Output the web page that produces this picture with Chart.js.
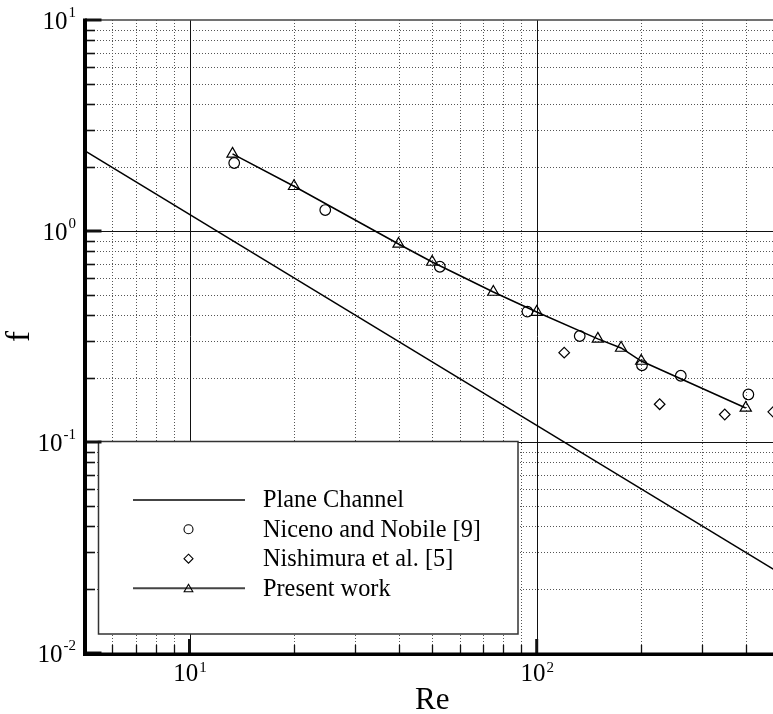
<!DOCTYPE html>
<html>
<head>
<meta charset="utf-8">
<script src="https://cdn.jsdelivr.net/npm/chart.js@4/dist/chart.umd.min.js"></script>
<style>
  html, body { margin: 0; padding: 0; background: #fff; overflow: hidden; }
  #wrap { width: 791px; height: 714px; }
</style>
</head>
<body>
<div id="wrap"><canvas id="c" width="791" height="714"></canvas></div>
<script>
// ---- data ----
const planeRe = [5, 500];
const planeF = [2.4, 0.024];

const nicenoRe = [13.45, 24.6, 52.6, 94, 133, 201, 260, 407];
const nicenoF  = [2.10, 1.257, 0.677, 0.415, 0.318, 0.231, 0.206, 0.168];

const nishimuraRe = [120, 226, 348, 480];
const nishimuraF  = [0.265, 0.151, 0.135, 0.139];

const presentRe = [13.3, 20, 40, 50, 75, 100, 150, 175, 200, 400];
const presentF  = [2.32, 1.63, 0.868, 0.713, 0.514, 0.413, 0.308, 0.279, 0.242, 0.145];

const seriesLabels = ['Plane Channel', 'Niceno and Nobile [9]', 'Nishimura et al. [5]', 'Present work'];

const xMajorTicks = [10, 100];
const xTickLabels = ['10^1', '10^2'];
const yMajorTicks = [0.01, 0.1, 1, 10];
const yTickLabels = ['10^-2', '10^-1', '10^0', '10^1'];
const xTitle = 'Re';
const yTitle = 'f';

const toPts = (xs, ys) => xs.map((v, i) => ({ x: v, y: ys[i] }));
const SERIF = "'Liberation Serif', 'Times New Roman', serif";

function minorValues(min, max) {
  const out = [];
  for (let d = Math.floor(Math.log10(min)); d <= Math.ceil(Math.log10(max)); d++) {
    for (let k = 2; k <= 9; k++) {
      const v = k * Math.pow(10, d);
      if (v > min * 1.0001 && v < max * 0.9999) out.push(v);
    }
  }
  return out;
}

function drawSymbol(ctx, style, cx, cy, r) {
  ctx.beginPath();
  if (style === 'circle') {
    ctx.arc(cx, cy, r, 0, Math.PI * 2);
  } else if (style === 'rectRot') {
    ctx.moveTo(cx, cy - r); ctx.lineTo(cx + r, cy); ctx.lineTo(cx, cy + r); ctx.lineTo(cx - r, cy); ctx.closePath();
  } else if (style === 'triangle') {
    ctx.moveTo(cx, cy - r);
    ctx.lineTo(cx + 0.866 * r, cy + 0.5 * r);
    ctx.lineTo(cx - 0.866 * r, cy + 0.5 * r);
    ctx.closePath();
  }
  ctx.stroke();
}

function drawPow(ctx, label, x, baseY, expY, align) {
  const [b, e] = label.split('^');
  ctx.font = '25px ' + SERIF;
  const bw = ctx.measureText(b).width;
  ctx.font = '15px ' + SERIF;
  const ew = ctx.measureText(e).width;
  const total = bw + 1 + ew;
  let left = align === 'right' ? x - total : x - total / 2;
  ctx.textAlign = 'left';
  ctx.textBaseline = 'alphabetic';
  ctx.font = '25px ' + SERIF;
  ctx.fillText(b, left, baseY);
  ctx.font = '15px ' + SERIF;
  ctx.fillText(e, left + bw + 1, expY);
}

const decor = {
  id: 'decor',
  beforeDatasetsDraw(chart) {
    const { ctx, chartArea: a, scales: { x, y } } = chart;
    ctx.save();
    // minor dotted grid
    ctx.strokeStyle = '#555';
    ctx.lineWidth = 1;
    ctx.setLineDash([1, 2]);
    minorValues(x.min, x.max).forEach(v => {
      const px = Math.round(x.getPixelForValue(v)) + 0.5;
      ctx.beginPath(); ctx.moveTo(px, a.top); ctx.lineTo(px, a.bottom); ctx.stroke();
    });
    minorValues(y.min, y.max).forEach(v => {
      const py = Math.round(y.getPixelForValue(v)) + 0.5;
      ctx.beginPath(); ctx.moveTo(a.left, py); ctx.lineTo(a.right, py); ctx.stroke();
    });
    ctx.setLineDash([]);
    // major solid grid
    ctx.strokeStyle = '#111';
    ctx.lineWidth = 1;
    xMajorTicks.forEach(v => {
      const px = Math.round(x.getPixelForValue(v)) + 0.5;
      ctx.beginPath(); ctx.moveTo(px, a.top); ctx.lineTo(px, a.bottom); ctx.stroke();
    });
    yMajorTicks.forEach(v => {
      if (v <= y.min || v >= y.max) return;
      const py = Math.round(y.getPixelForValue(v)) + 0.5;
      ctx.beginPath(); ctx.moveTo(a.left, py); ctx.lineTo(a.right, py); ctx.stroke();
    });
    ctx.restore();
  },
  afterDatasetsDraw(chart) {
    const { ctx, chartArea: a, scales: { x, y } } = chart;
    ctx.save();
    // legend box
    const lb = { l: 98.5, t: 441.5, r: 518, b: 634 };
    ctx.fillStyle = '#fff';
    ctx.fillRect(lb.l, lb.t, lb.r - lb.l, lb.b - lb.t);
    ctx.strokeStyle = '#333';
    ctx.lineWidth = 1.5;
    ctx.strokeRect(lb.l, lb.t, lb.r - lb.l, lb.b - lb.t);
    const rowY = [500, 529.3, 558.7, 588.3];
    chart.data.datasets.forEach((ds, i) => {
      const yy = rowY[i];
      if (ds.showLine) {
        ctx.strokeStyle = '#444';
        ctx.lineWidth = 2;
        ctx.beginPath(); ctx.moveTo(133, yy); ctx.lineTo(245, yy); ctx.stroke();
      }
      if (ds.pointRadius > 0) {
        ctx.strokeStyle = '#000';
        ctx.lineWidth = 1.1;
        drawSymbol(ctx, ds.pointStyle, 188.5, yy + (ds.pointStyle === 'triangle' ? 1 : 0), ds.pointStyle === 'triangle' ? 5 : 4.5);
      }
      ctx.fillStyle = '#000';
      ctx.font = '24.3px ' + SERIF;
      ctx.textAlign = 'left';
      ctx.textBaseline = 'middle';
      ctx.fillText(ds.label, 263, yy + 1);
    });

    // frame: thin top/right
    ctx.strokeStyle = '#444';
    ctx.lineWidth = 1.5;
    ctx.beginPath(); ctx.moveTo(a.left, a.top); ctx.lineTo(a.right, a.top); ctx.lineTo(a.right, a.bottom); ctx.stroke();

    // ticks on left axis
    ctx.strokeStyle = '#111';
    minorValues(y.min, y.max).forEach(v => {
      const py = Math.round(y.getPixelForValue(v)) + 0.5;
      ctx.lineWidth = 1.6;
      ctx.beginPath(); ctx.moveTo(a.left, py); ctx.lineTo(a.left + 10, py); ctx.stroke();
    });
    yMajorTicks.forEach(v => {
      const py = y.getPixelForValue(v);
      ctx.lineWidth = 3;
      ctx.beginPath(); ctx.moveTo(a.left, py); ctx.lineTo(a.left + 16.5, py); ctx.stroke();
    });
    // ticks on bottom axis
    minorValues(x.min, x.max).forEach(v => {
      const px = Math.round(x.getPixelForValue(v)) + 0.5;
      ctx.lineWidth = 1.3;
      ctx.beginPath(); ctx.moveTo(px, a.bottom); ctx.lineTo(px, a.bottom - 8); ctx.stroke();
    });
    xMajorTicks.forEach(v => {
      const px = x.getPixelForValue(v);
      ctx.lineWidth = 3;
      ctx.beginPath(); ctx.moveTo(px, a.bottom); ctx.lineTo(px, a.bottom - 14); ctx.stroke();
    });
    // thick left and bottom axes
    ctx.strokeStyle = '#000';
    ctx.lineWidth = 4;
    ctx.beginPath(); ctx.moveTo(a.left, a.top - 1.5); ctx.lineTo(a.left, a.bottom + 2.5); ctx.stroke();
    ctx.lineWidth = 3.5;
    ctx.beginPath(); ctx.moveTo(a.left - 2, a.bottom + 1.2); ctx.lineTo(a.right, a.bottom + 1.2); ctx.stroke();

    // tick labels
    ctx.fillStyle = '#000';
    yMajorTicks.forEach((v, i) => {
      const py = y.getPixelForValue(v);
      drawPow(ctx, yTickLabels[i], 76, py + 9, py - 3, 'right');
    });
    xMajorTicks.forEach((v, i) => {
      const px = x.getPixelForValue(v);
      drawPow(ctx, xTickLabels[i], px + 0.5, 680.5, 671.5, 'center');
    });

    // axis titles
    ctx.font = '31px ' + SERIF;
    ctx.textAlign = 'center';
    ctx.textBaseline = 'alphabetic';
    ctx.fillText(xTitle, (a.left + a.right) / 2, 708.5);
    ctx.save();
    ctx.font = '33px ' + SERIF;
    ctx.translate(29, (a.top + a.bottom) / 2);
    ctx.rotate(-Math.PI / 2);
    ctx.fillText(yTitle, 0, 0);
    ctx.restore();

    ctx.restore();
  }
};

const chart = new Chart(document.getElementById('c'), {
  type: 'scatter',
  data: {
    datasets: [
      {
        label: seriesLabels[0],
        data: toPts(planeRe, planeF),
        showLine: true,
        borderColor: '#000',
        borderWidth: 1.5,
        pointRadius: 0,
        pointStyle: 'circle',
        tension: 0
      },
      {
        label: seriesLabels[1],
        data: toPts(nicenoRe, nicenoF),
        showLine: false,
        pointStyle: 'circle',
        pointRadius: 5.3,
        pointBorderWidth: 1.2,
        borderColor: '#000',
        backgroundColor: 'rgba(0,0,0,0)',
        pointBackgroundColor: 'rgba(0,0,0,0)',
        pointBorderColor: '#000'
      },
      {
        label: seriesLabels[2],
        data: toPts(nishimuraRe, nishimuraF),
        showLine: false,
        pointStyle: 'rectRot',
        pointRadius: 5.3,
        pointBorderWidth: 1.2,
        borderColor: '#000',
        backgroundColor: 'rgba(0,0,0,0)',
        pointBackgroundColor: 'rgba(0,0,0,0)',
        pointBorderColor: '#000'
      },
      {
        label: seriesLabels[3],
        data: toPts(presentRe, presentF),
        showLine: true,
        borderColor: '#000',
        borderWidth: 1.5,
        pointStyle: 'triangle',
        pointRadius: 6.5,
        pointBorderWidth: 1.2,
        backgroundColor: 'rgba(0,0,0,0)',
        pointBackgroundColor: 'rgba(0,0,0,0)',
        pointBorderColor: '#000',
        tension: 0
      }
    ]
  },
  options: {
    responsive: false,
    animation: false,
    devicePixelRatio: 1,
    layout: { padding: { left: 85, top: 20, right: 11.6, bottom: 61 } },
    plugins: { legend: { display: false }, tooltip: { enabled: false } },
    scales: {
      x: { type: 'logarithmic', min: 5, max: 500, display: false },
      y: { type: 'logarithmic', min: 0.01, max: 10, display: false }
    }
  },
  plugins: [decor]
});
</script>
</body>
</html>
